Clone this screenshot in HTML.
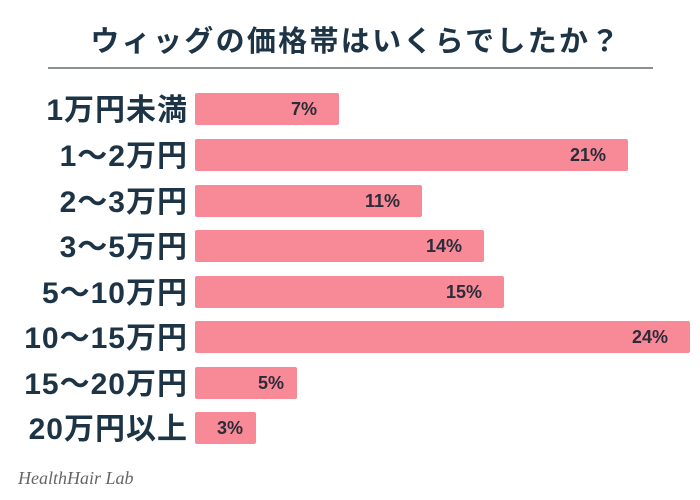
<!DOCTYPE html>
<html><head><meta charset="utf-8"><style>
body{margin:0;width:700px;height:500px;background:#fff;position:relative;overflow:hidden;font-family:"Liberation Sans","Noto Sans CJK JP",sans-serif;color:#1d3446}
.t{position:absolute;left:6px;width:700px;top:24px;text-align:center;font-size:29px;font-weight:bold;letter-spacing:2.3px;line-height:36px}
.hr{position:absolute;left:48px;width:605px;top:67px;height:2px;background:#8a8f94}
.l{position:absolute;right:512px;font-size:30px;font-weight:bold;white-space:nowrap;line-height:32px;letter-spacing:1px;margin-top:2px}
.b{position:absolute;left:195px;height:32px;background:#f78a96;border-radius:2px}
.p{position:absolute;font-size:18px;font-weight:bold;color:#2b2b3a;line-height:32px;text-align:right}
.w{position:absolute;left:18px;top:468px;font-family:"Liberation Serif",serif;font-style:italic;font-size:18px;color:#666}
</style></head><body>
<div class="t">ウィッグの価格帯はいくらでしたか？</div>
<div class="hr"></div>

<div class="l" style="top:93px">1万円未満</div><div class="b" style="top:93px;width:144px"></div><div class="p" style="top:93px;left:195px;width:122px">7%</div>
<div class="l" style="top:139px">1〜2万円</div><div class="b" style="top:139px;width:433px"></div><div class="p" style="top:139px;left:195px;width:411px">21%</div>
<div class="l" style="top:185px">2〜3万円</div><div class="b" style="top:185px;width:227px"></div><div class="p" style="top:185px;left:195px;width:205px">11%</div>
<div class="l" style="top:230px">3〜5万円</div><div class="b" style="top:230px;width:289px"></div><div class="p" style="top:230px;left:195px;width:267px">14%</div>
<div class="l" style="top:276px">5〜10万円</div><div class="b" style="top:276px;width:309px"></div><div class="p" style="top:276px;left:195px;width:287px">15%</div>
<div class="l" style="top:321px">10〜15万円</div><div class="b" style="top:321px;width:495px"></div><div class="p" style="top:321px;left:195px;width:473px">24%</div>
<div class="l" style="top:367px">15〜20万円</div><div class="b" style="top:367px;width:102px"></div><div class="p" style="top:367px;left:195px;width:89px">5%</div>
<div class="l" style="top:412px">20万円以上</div><div class="b" style="top:412px;width:61px"></div><div class="p" style="top:412px;left:195px;width:48px">3%</div>

<div class="w">HealthHair Lab</div>
</body></html>
